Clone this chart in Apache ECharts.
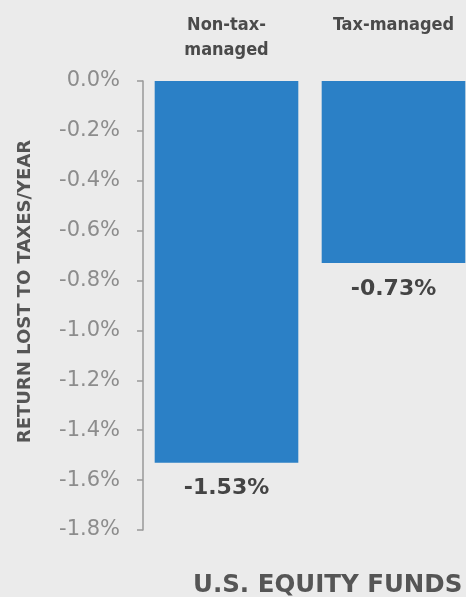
<!DOCTYPE html>
<html>
<head>
<meta charset="utf-8">
<script src="https://cdn.jsdelivr.net/npm/echarts@6/dist/echarts.min.js"></script>
<style>
  html, body { margin: 0; padding: 0; background: #ebebeb; }
  #chart { width: 466px; height: 597px; }
</style>
</head>
<body>
<div id="chart"></div>
<script>
// values
const categories = ['Non-tax-\nmanaged', 'Tax-managed']
const returnLost = [-1.53, -0.73]
const yTicks = { min: -1.8, max: 0, interval: 0.2 }
const yName = 'RETURN LOST TO TAXES/YEAR'
const groupName = 'U.S. EQUITY FUNDS'

const font = 'DejaVu Sans'

const option = {
  backgroundColor: '#ebebeb',
  animation: false,
  title: {
    text: groupName,
    left: 193,
    top: 573,
    padding: 0,
    textStyle: { fontFamily: font, fontSize: 24.5, fontWeight: 'bold', color: '#555' }
  },
  grid: { left: 143, top: 81, width: 334, bottom: 67, outerBoundsMode: 'none', containLabel: false },
  xAxis: {
    type: 'category',
    position: 'top',
    data: categories,
    axisLine: { show: false },
    axisTick: { show: false },
    axisLabel: {
      margin: 68,
      verticalAlign: 'top',
      lineHeight: 25,
      fontFamily: 'DejaVu Sans Condensed, DejaVu Sans',
      fontSize: 18,
      fontWeight: 'bold',
      color: '#4a4a4a'
    }
  },
  yAxis: {
    type: 'value',
    min: yTicks.min,
    max: yTicks.max,
    interval: yTicks.interval,
    name: yName,
    nameLocation: 'middle',
    nameRotate: 90,
    nameGap: 109,
    nameTextStyle: {
      fontFamily: font, fontSize: 18, fontWeight: 'bold', color: '#555',
      padding: [0, 0, 0, 28]
    },
    splitLine: { show: false },
    axisLine: { show: true, lineStyle: { color: '#999', width: 1.5 } },
    axisTick: { show: true, length: 6, lineStyle: { color: '#999', width: 1.5 } },
    axisLabel: {
      margin: 23,
      fontFamily: font,
      fontSize: 21,
      color: '#8c8c8c',
      formatter: v => v.toFixed(1) + '%'
    }
  },
  series: [{
    type: 'bar',
    data: returnLost,
    barCategoryGap: '14%',
    itemStyle: { color: '#2b80c6' },
    label: {
      show: true,
      position: 'bottom',
      distance: 15,
      fontFamily: font,
      fontSize: 22,
      fontWeight: 'bold',
      color: '#444',
      formatter: p => p.value.toFixed(2) + '%'
    }
  }]
}

const c = echarts.init(document.getElementById('chart'))
c.setOption(option)
</script>
</body>
</html>
